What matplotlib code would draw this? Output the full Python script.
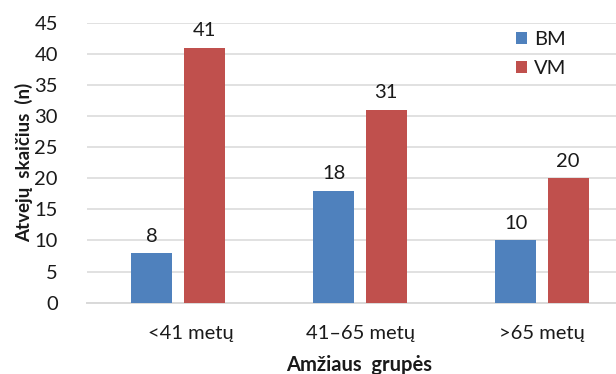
import matplotlib
matplotlib.use("Agg")
import matplotlib.pyplot as plt
import matplotlib.transforms as mtransforms
import numpy as np

# Data
categories = ["<41 metų", "41–65 metų", ">65 metų"]
series_names = ["BM", "VM"]
bm_values = [8, 18, 10]
vm_values = [41, 31, 20]
y_ticks = [0, 5, 10, 15, 20, 25, 30, 35, 40, 45]

colors = {"BM": "#4F81BD", "VM": "#C0504D"}
grid_color = "#D9D9D9"
text_color = "#1a1a1a"
font = "Lato"
fs = 14.5

plt.rcParams["font.family"] = [font, "DejaVu Sans"]

W, H = 616, 374
fig = plt.figure(figsize=(W / 100, H / 100), dpi=100)
ax_bottom_px, ax_h_px = 302.7, 280
ax = fig.add_axes([87 / W, (H - ax_bottom_px) / H, 546 / W, ax_h_px / H])

x = np.arange(len(categories))
bar_w = 0.225
offset = 0.143

bars_bm = ax.bar(x - offset, bm_values, width=bar_w, color=colors["BM"],
                 label=series_names[0], zorder=3)
bars_vm = ax.bar(x + offset, vm_values, width=bar_w, color=colors["VM"],
                 label=series_names[1], zorder=3)

for bars in (bars_bm, bars_vm):
    ax.bar_label(bars, labels=[str(v) for v in bars.datavalues],
                 padding=6, fontsize=fs, color=text_color)

ax.set_xlim(-0.5, len(categories) - 0.5)
ax.set_ylim(0, 45)
ax.set_yticks(y_ticks)
ax.set_yticklabels([str(t) for t in y_ticks], fontsize=fs, color=text_color)

# category labels drawn under each group (first one nudged right)
ax.set_xticks(x)
ax.set_xticklabels([])
label_shift_px = [13, 0, 0]
base = mtransforms.blended_transform_factory(ax.transData, ax.transAxes)
for xi, lab, dx in zip(x, categories, label_shift_px):
    tr = base + mtransforms.ScaledTranslation(dx / 100, -22 / 100,
                                              fig.dpi_scale_trans)
    ax.text(xi, 0, lab, transform=tr, ha="center", va="top",
            fontsize=fs, color=text_color)

ax.tick_params(axis="both", length=0)
ax.tick_params(axis="y", pad=21)

ax.yaxis.grid(True, color=grid_color, linewidth=1.1, zorder=0)
ax.set_axisbelow(True)
for side in ("left", "right", "top"):
    ax.spines[side].set_visible(False)
ax.spines["bottom"].set_color(grid_color)
ax.spines["bottom"].set_linewidth(1.4)

ax.set_ylabel("Atvejų  skaičius  (n)", fontsize=13.5, fontweight="bold",
              color=text_color)
ax.yaxis.set_label_coords((33 - 87) / 546, 0.5)
ax.set_xlabel("Amžiaus  grupės", fontsize=fs, fontweight="bold",
              color=text_color)
ax.xaxis.set_label_coords(0.5 - 1 / 546, -(355 - ax_bottom_px) / ax_h_px)

leg = ax.legend(loc="upper left", bbox_to_anchor=(516 / W, (H - 31) / H),
                bbox_transform=fig.transFigure, frameon=False, fontsize=fs,
                handlelength=0.55, handleheight=0.55, handletextpad=0.35,
                labelspacing=0.6, borderaxespad=0, borderpad=0)
for t in leg.get_texts():
    t.set_color(text_color)

fig.savefig("out.png", dpi=100)
